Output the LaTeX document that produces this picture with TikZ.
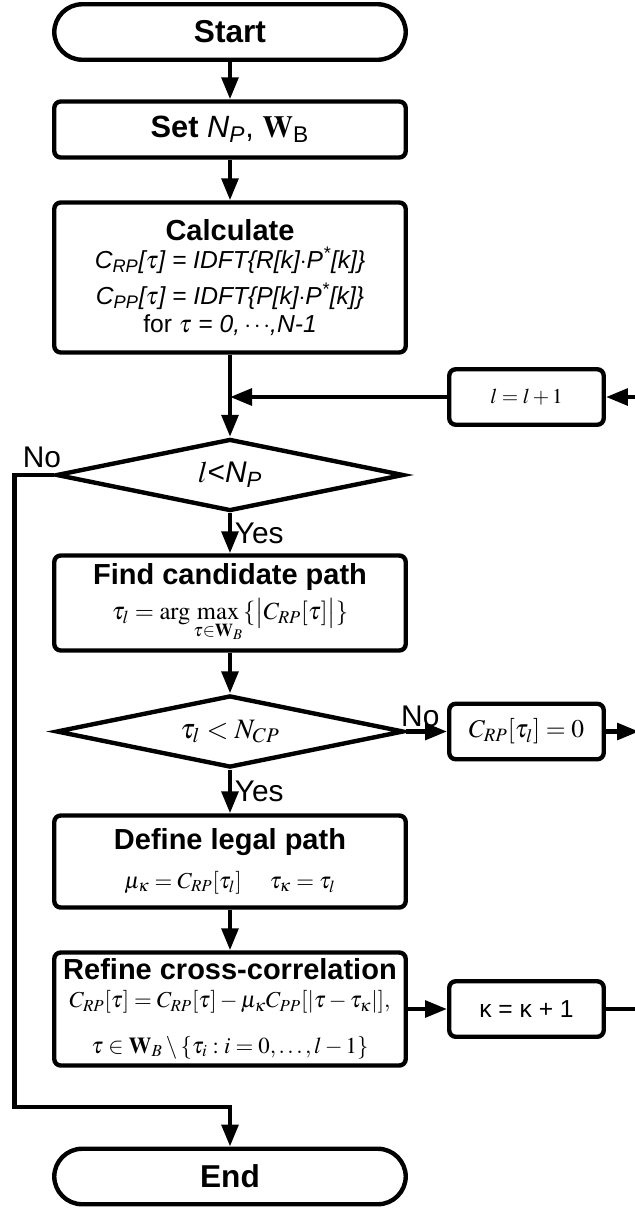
\documentclass[tikz,border=0pt]{standalone}
\usepackage{mathptmx}
\usepackage[no-math]{fontspec}
\setmainfont{Liberation Sans}
\usetikzlibrary{shapes.geometric,arrows.meta}

\newcommand{\boxhead}{\fontsize{16.5}{19}\selectfont\bfseries}
\newcommand{\boxeq}{\fontsize{13}{16}\selectfont}
\newcommand{\flowlbl}{\fontsize{17}{19}\selectfont}

\begin{document}
\begin{tikzpicture}[
    conn/.style={line width=2.5pt},
    arr/.style={line width=2.5pt, -{Triangle[length=4.4mm,width=3.3mm]}},
    term/.style={draw, line width=2.5pt, rounded corners=5.6mm, minimum width=7.03cm, minimum height=1.11cm, font=\fontsize{18}{20}\selectfont\bfseries},
    proc/.style={draw, line width=2.5pt, rounded corners=1.3mm, minimum width=7.03cm, align=center, inner sep=0pt, font=\boxeq},
    decide/.style={draw, diamond, line width=2.5pt, aspect=4.8, minimum width=6.95cm, minimum height=1.44cm, inner sep=0pt},
    sidebox/.style={draw, line width=2.5pt, rounded corners=1.3mm, minimum width=3.09cm, minimum height=1.11cm, font=\boxeq},
    lbl/.style={font=\flowlbl, inner sep=1.5pt}]
    \useasboundingbox (0,0) rectangle (12.7,-24.18);

    \node[term] (start) at (4.6,-0.64) {Start};
    \node[proc, minimum height=1.12cm] (set) at (4.6,-2.59) {\fontsize{17.5}{19}\selectfont\textbf{Set} \textit{N}\textsubscript{\textit{P}}, $\mathbf{W}$\textsubscript{B}};
    \node[proc, minimum height=3.0cm] (calc) at (4.6,-5.55) {{\boxhead Calculate}\\[0pt]
        \fontsize{14}{17}\selectfont\itshape C\textsubscript{RP}[$\tau$] = IDFT\{R[k]$\cdot$P\textsuperscript{*}[k]\}\\[4pt]
        \fontsize{14}{17}\selectfont\itshape C\textsubscript{PP}[$\tau$] = IDFT\{P[k]$\cdot$P\textsuperscript{*}[k]\}\\
        \fontsize{14}{17}\selectfont for $\tau$ = \textit{0,\,$\cdots$,N-1}};
    \coordinate (merge) at (4.6,-7.94);
    \node[sidebox, font=\fontsize{12}{14}\selectfont] (incl) at (10.53,-7.94) {$l=l+1$};
    \node[decide] (limit) at (4.6,-9.5) {\fontsize{17}{19}\selectfont$l$<\textit{N}\textsubscript{\textit{P}}};
    \node[proc, minimum height=1.9cm] (find) at (4.6,-12.06) {{\boxhead Find candidate path}\\[4pt]
        \fontsize{14}{16}\selectfont$\tau_l=\arg\max\limits_{\tau\in\mathbf{W}_B}\{\bigl|C_{RP}[\tau]\bigr|\}$};
    \node[decide] (cp) at (4.6,-14.63) {\fontsize{16}{18}\selectfont$\tau_l<N_{CP}$};
    \node[sidebox, font=\fontsize{14.5}{16}\selectfont] (zero) at (10.53,-14.63) {$C_{RP}[\tau_l]=0$};
    \node[proc, minimum height=1.84cm] (legal) at (4.6,-17.23) {{\boxhead Define legal path}\\[6pt]
        $\mu_\kappa=C_{RP}[\tau_l]\quad\;\tau_\kappa=\tau_l$};
    \node[proc, minimum height=2.26cm] (refine) at (4.6,-20.18) {{\boxhead Refine cross-correlation}\\
        $C_{RP}[\tau]=C_{RP}[\tau]-\mu_\kappa C_{PP}[|\tau-\tau_\kappa|],$\\[10pt]
        $\tau\in\mathbf{W}_B\setminus\{\tau_i:i=0,\ldots,l-1\}$};
    \node[sidebox, font=\fontsize{14}{16}\selectfont] (kap) at (10.53,-20.18) {κ = κ + 1};
    \node[term] (stop) at (4.6,-23.53) {End};
    \coordinate (back) at (12.78,-20.18);
    \coordinate (exit) at (0.29,-22.14);

    \draw[arr] (start) -- (set);
    \draw[arr] (set) -- (calc);
    \draw[conn] (calc) -- (merge);
    \draw[arr] (merge) -- (limit);
    \draw[arr] (incl) -- (merge);
    \draw[arr] (limit) -- node[lbl, right] {Yes} (find);
    \draw[arr] (find) -- (cp);
    \draw[arr] (cp) -- node[lbl, above, pos=0.35] {No} (zero);
    \draw[arr] (zero) -- (zero -| back);
    \draw[arr] (cp) -- node[lbl, right] {Yes} (legal);
    \draw[arr] (legal) -- (refine);
    \draw[arr] (refine) -- (kap);
    \draw[arr] (kap) -- (back) |- (incl);
    \draw[arr] (limit.west) -| (exit) -| (stop);
    \node[lbl] (no) at (0.84,-9.14) {No};
\end{tikzpicture}
\end{document}
